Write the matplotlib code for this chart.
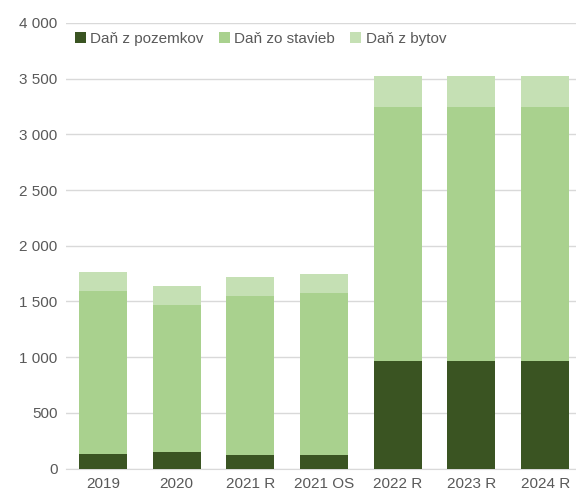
import matplotlib
matplotlib.use("Agg")
import matplotlib.pyplot as plt
from matplotlib.ticker import FuncFormatter

categories = ["2019", "2020", "2021 R", "2021 OS", "2022 R", "2023 R", "2024 R"]
pozemkov = [130, 150, 120, 120, 965, 965, 965]
stavieb = [1465, 1320, 1425, 1460, 2280, 2280, 2280]
bytov = [168, 168, 170, 168, 275, 275, 275]
series_names = ["Daň z pozemkov", "Daň zo stavieb", "Daň z bytov"]
colors = ["#3A5422", "#A9D18E", "#C5E0B4"]

plt.rcParams['font.family'] = ['Liberation Sans', 'DejaVu Sans']

fig = plt.figure(figsize=(5.76, 5.0), dpi=100)
W, H = 576, 500
left, right, top, bottom = 66, 576, 23, 468.5
ax = fig.add_axes([left / W, 1 - bottom / H, (right - left) / W, (bottom - top) / H])

x = range(len(categories))
w = 0.65
b1 = [p for p in pozemkov]
b2 = [p + s for p, s in zip(pozemkov, stavieb)]
ax.bar(x, pozemkov, w, color=colors[0], label=series_names[0], zorder=3)
ax.bar(x, stavieb, w, bottom=b1, color=colors[1], label=series_names[1], zorder=3)
ax.bar(x, bytov, w, bottom=b2, color=colors[2], label=series_names[2], zorder=3)

ax.set_ylim(0, 4000)
ax.set_yticks(range(0, 4001, 500))
ax.yaxis.set_major_formatter(FuncFormatter(lambda v, p: f"{int(v):,}".replace(",", " ")))
ax.set_xlim(-0.5, 6.5 - 6 / 73.7)
ax.set_xticks(list(x))
ax.set_xticklabels(categories)

ax.grid(axis='y', color='#D9D9D9', linewidth=1, zorder=0)
for s in ["top", "right", "left"]:
    ax.spines[s].set_visible(False)
ax.spines["bottom"].set_color('#D9D9D9')
ax.tick_params(axis='both', length=0, labelsize=11, colors='#595959', pad=6)

leg = ax.legend(loc='upper left', bbox_to_anchor=(0.0, 1.0), ncol=3, frameon=False,
                fontsize=11, handlelength=0.7, handleheight=0.7, handletextpad=0.3,
                columnspacing=1.0, labelcolor='#595959', borderaxespad=0.2)

fig.savefig("out.png", dpi=100)
